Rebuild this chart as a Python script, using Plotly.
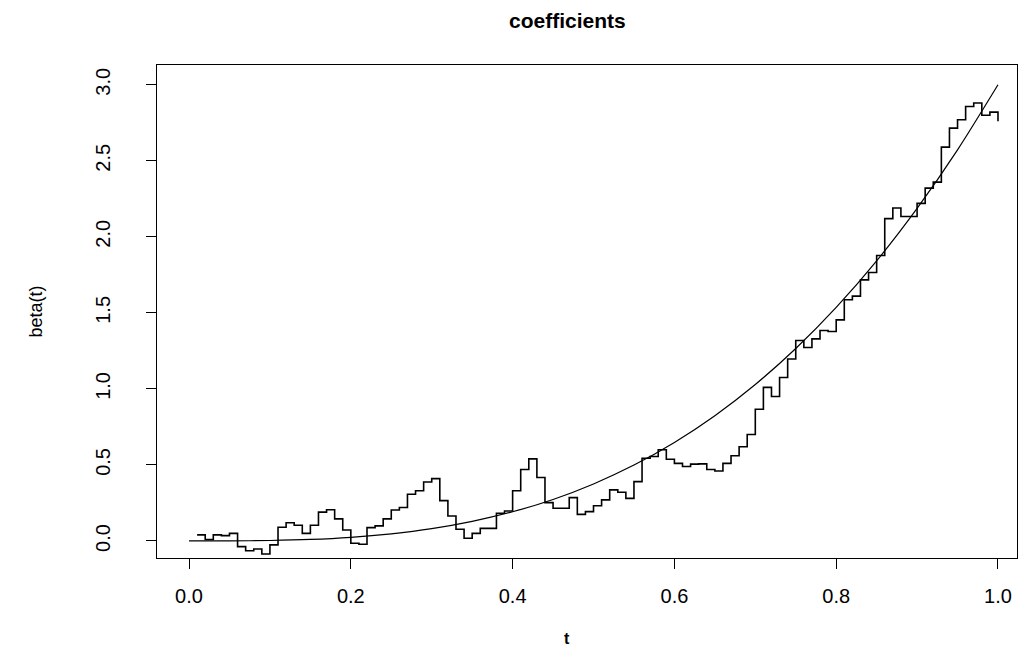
import plotly.graph_objects as go

# step estimate of beta(t) at t = 0.01 ... 1.00
t_step = [round(0.01 * i, 2) for i in range(1, 101)]
beta_hat = [
    0.04, 0.01, 0.04, 0.035, 0.05, -0.037, -0.064, -0.053, -0.086, -0.026,
    0.09, 0.12, 0.103, 0.05, 0.103, 0.19, 0.205, 0.145, 0.072, -0.015,
    -0.022, 0.088, 0.099, 0.145, 0.204, 0.22, 0.307, 0.33, 0.388, 0.41,
    0.265, 0.164, 0.077, 0.018, 0.05, 0.083, 0.083, 0.182, 0.197, 0.33,
    0.47, 0.54, 0.417, 0.252, 0.215, 0.215, 0.285, 0.175, 0.193, 0.232,
    0.27, 0.336, 0.32, 0.28, 0.39, 0.544, 0.555, 0.60, 0.537, 0.51,
    0.49, 0.505, 0.507, 0.47, 0.46, 0.51, 0.56, 0.62, 0.70, 0.866,
    1.01, 0.95, 1.075, 1.197, 1.318, 1.272, 1.329, 1.384, 1.377, 1.454,
    1.586, 1.61, 1.717, 1.765, 1.877, 2.12, 2.19, 2.134, 2.134, 2.22,
    2.32, 2.36, 2.59, 2.715, 2.77, 2.857, 2.88, 2.80, 2.82, 2.76,
]

# true beta(t) curve, read at t = 0, 0.05, ..., 1
t_true = [0.0, 0.05, 0.1, 0.15, 0.2, 0.25, 0.3, 0.35, 0.4, 0.45, 0.5,
          0.55, 0.6, 0.65, 0.7, 0.75, 0.8, 0.85, 0.9, 0.95, 1.0]
beta_true = [0.0, 0.0004, 0.003, 0.010, 0.024, 0.047, 0.081, 0.129, 0.192,
             0.273, 0.375, 0.499, 0.648, 0.824, 1.029, 1.266, 1.536, 1.842,
             2.187, 2.572, 3.0]

x_ticks = [0.0, 0.2, 0.4, 0.6, 0.8, 1.0]
x_ticktext = ["0.0", "0.2", "0.4", "0.6", "0.8", "1.0"]
y_ticks = [0.0, 0.5, 1.0, 1.5, 2.0, 2.5, 3.0]
y_ticktext = ["0.0", "0.5", "1.0", "1.5", "2.0", "2.5", "3.0"]

FONT = "Liberation Sans, Arial, sans-serif"

fig = go.Figure()
fig.add_trace(go.Scatter(
    x=t_step, y=beta_hat, mode="lines", line=dict(color="black", width=1.6, shape="hv"),
    showlegend=False, hoverinfo="skip"))
fig.add_trace(go.Scatter(
    x=t_true, y=beta_true, mode="lines", line=dict(color="black", width=1.2, shape="spline", smoothing=0.8),
    showlegend=False, hoverinfo="skip"))

fig.update_layout(
    width=1028, height=650,
    margin=dict(l=157, r=11, t=65, b=92),
    paper_bgcolor="white", plot_bgcolor="white",
    font=dict(family=FONT, color="black", size=17),
    annotations=[
        dict(text="<b>coefficients</b>", xref="paper", yref="paper", x=0.477, y=1,
             yshift=45, xanchor="center", yanchor="middle", showarrow=False,
             font=dict(size=21, family=FONT)),
        dict(text="<b>t</b>", xref="paper", yref="paper", x=0.477, y=0,
             yshift=-80, xanchor="center", yanchor="middle", showarrow=False,
             font=dict(size=16, family=FONT)),
        dict(text="beta(t)", xref="paper", yref="paper", x=0, y=0.5,
             xshift=-122, xanchor="center", yanchor="middle", textangle=-90,
             showarrow=False, font=dict(size=18, family=FONT)),
    ],
)
fig.update_xaxes(
    range=[-0.0396, 1.0235], tickvals=x_ticks, ticktext=x_ticktext,
    showline=True, linecolor="black", linewidth=1, mirror=True,
    ticks="outside", ticklen=10, tickcolor="black", tickwidth=1,
    showgrid=False, zeroline=False, ticklabelstandoff=10,
    tickfont=dict(size=20, family=FONT),
)
fig.update_yaxes(
    range=[-0.112, 3.13], tickvals=y_ticks, ticktext=y_ticktext,
    showline=True, linecolor="black", linewidth=1, mirror=True,
    ticks="outside", ticklen=10, tickcolor="black", tickwidth=1,
    showgrid=False, zeroline=False, tickangle=-90, ticklabelstandoff=28,
    tickfont=dict(size=20, family=FONT),
)

fig.write_html("out.html")
